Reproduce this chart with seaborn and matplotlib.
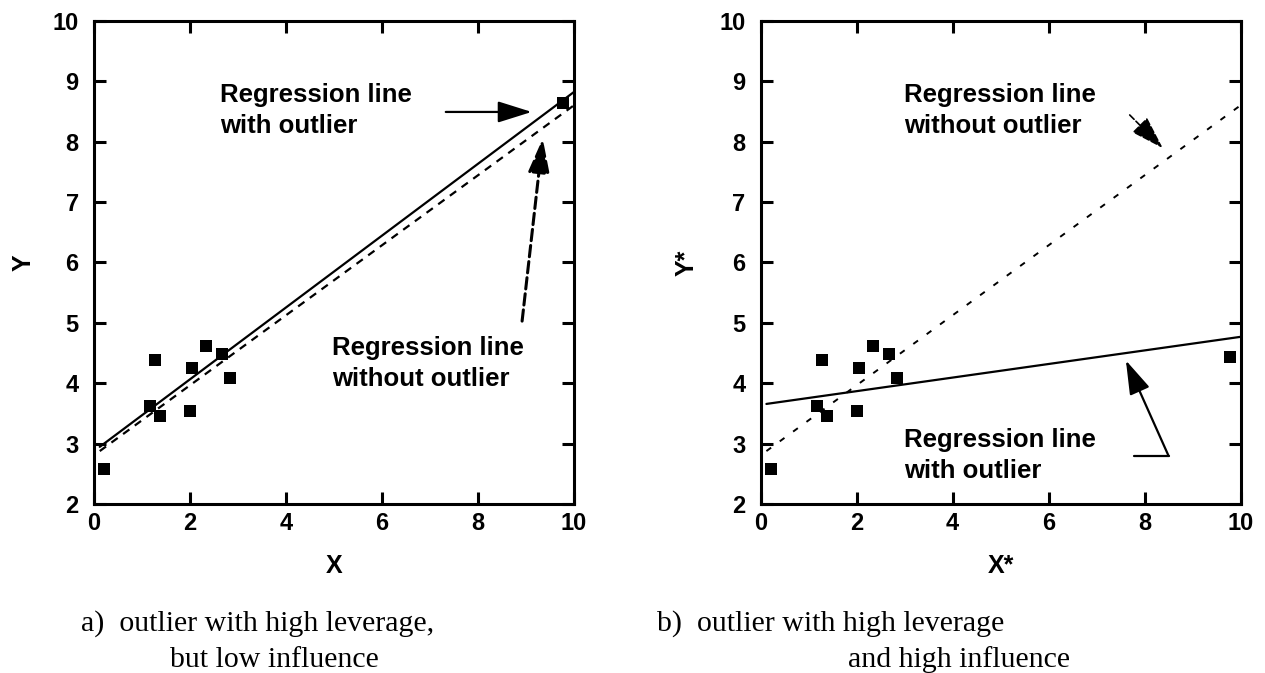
import pandas as pd
import seaborn as sns
import matplotlib.pyplot as plt

# nine ordinary points, identical in both panels
x_base = [0.21, 1.17, 1.28, 1.38, 2.01, 2.05, 2.34, 2.67, 2.84]
y_base = [2.58, 3.63, 4.38, 3.46, 3.55, 4.25, 4.61, 4.48, 4.09]

# the outlier: same x, different y in each panel
x_out = 9.77
y_out_a = 8.63
y_out_b = 4.43

# regression lines as drawn (start x, end x) and (start y, end y)
fit_x = [0.12, 10]
fit_a_with = [2.95, 8.82]
fit_a_without = [2.88, 8.60]
fit_b_with = [3.66, 4.77]
fit_b_without = [2.88, 8.60]

x_ticks = [0, 2, 4, 6, 8, 10]
y_ticks = [2, 3, 4, 5, 6, 7, 8, 9, 10]

captions_a = ['a)  outlier with high leverage,', 'but low influence']
captions_b = ['b)  outlier with high leverage', 'and high influence']

sns.set_theme(style='ticks')
plt.rcParams['font.family'] = ['Liberation Sans', 'DejaVu Sans']
plt.rcParams['font.weight'] = 'bold'
plt.rcParams['text.color'] = 'black'
plt.rcParams['axes.edgecolor'] = 'black'
plt.rcParams['xtick.color'] = 'black'
plt.rcParams['ytick.color'] = 'black'
plt.rcParams['axes.labelcolor'] = 'black'
plt.rcParams['axes.labelweight'] = 'bold'


def draw_panel(ax, y_out, fit_with, fit_without, dash, dash_lw, xlabel, ylabel):
    df = pd.DataFrame({'x': x_base + [x_out], 'y': y_base + [y_out]})
    sns.scatterplot(data=df, x='x', y='y', marker='s', s=78, color='black',
                    linewidth=0, ax=ax, zorder=3)

    # regression with and without the outlier
    ax.plot(fit_x, fit_with, color='black', lw=1.6)
    ax.plot(fit_x, fit_without, color='black', lw=dash_lw, ls=(0, dash))

    ax.set_xlim(0, 10)
    ax.set_ylim(2, 10)
    ax.set_xticks(x_ticks)
    ax.set_yticks(y_ticks)
    ax.tick_params(direction='in', top=True, right=True, length=8.5,
                   width=2.2, labelsize=17)
    ax.tick_params(axis='x', pad=5.5)
    ax.tick_params(axis='y', pad=11)
    for sp in ax.spines.values():
        sp.set_visible(True)
        sp.set_linewidth(2.2)
    ax.set_xlabel(xlabel, fontsize=18)
    ax.set_ylabel(ylabel, fontsize=18)
    ax.xaxis.set_label_coords(0.5, -0.102)


fig = plt.figure(figsize=(12.65, 6.73), dpi=100)
ax1 = fig.add_axes([0.0743, 0.2507, 0.3794, 0.7186])
ax2 = fig.add_axes([0.6013, 0.2507, 0.3794, 0.7186])

draw_panel(ax1, y_out_a, fit_a_with, fit_a_without, (3.5, 3), 1.6, 'X', 'Y')
draw_panel(ax2, y_out_b, fit_b_with, fit_b_without, (3, 5.5), 1.4, 'X*', 'Y*')
ax1.yaxis.set_label_coords(-0.122, 0.5)
ax2.yaxis.set_label_coords(-0.13, 0.5)

head = '-|>,head_length=1.05,head_width=0.33'
note = dict(fontsize=18.5, va='baseline', linespacing=1.4)

# panel a annotations (y is the baseline of the second line)
ax1.text(2.62, 8.14, 'Regression line\nwith outlier', **note)
ax1.annotate('', xy=(9.12, 8.49), xytext=(7.33, 8.49),
             arrowprops=dict(arrowstyle=head, color='black', lw=1.6,
                             mutation_scale=20, shrinkA=0, shrinkB=0))
ax1.text(4.96, 3.95, 'Regression line\nwithout outlier', **note)
ax1.annotate('', xy=(9.35, 8.05), xytext=(8.92, 5.03),
             arrowprops=dict(arrowstyle=head, color='black', lw=2.2, ls='--',
                             mutation_scale=20, shrinkA=0, shrinkB=0))

# panel b annotations
ax2.text(2.98, 8.14, 'Regression line\nwithout outlier', **note)
ax2.annotate('', xy=(8.38, 7.89), xytext=(7.69, 8.44),
             arrowprops=dict(arrowstyle=head, color='black', lw=1.2, ls='--',
                             mutation_scale=20, shrinkA=0, shrinkB=0))
ax2.text(2.98, 2.43, 'Regression line\nwith outlier', **note)
ax2.plot([7.78, 8.5], [2.8, 2.8], color='black', lw=1.6)
ax2.annotate('', xy=(7.61, 4.38), xytext=(8.5, 2.8),
             arrowprops=dict(arrowstyle=head, color='black', lw=1.6,
                             mutation_scale=20, shrinkA=0, shrinkB=0))

# captions under each panel
cap = dict(fontsize=21.5, fontweight='normal', family=['Liberation Serif'],
           va='baseline')
fig.text(81 / 1265, 1 - 631 / 673, captions_a[0], **cap)
fig.text(170 / 1265, 1 - 667 / 673, captions_a[1], **cap)
fig.text(657 / 1265, 1 - 631 / 673, captions_b[0], **cap)
fig.text(848 / 1265, 1 - 667 / 673, captions_b[1], **cap)

fig.savefig('out.png', dpi=100)
